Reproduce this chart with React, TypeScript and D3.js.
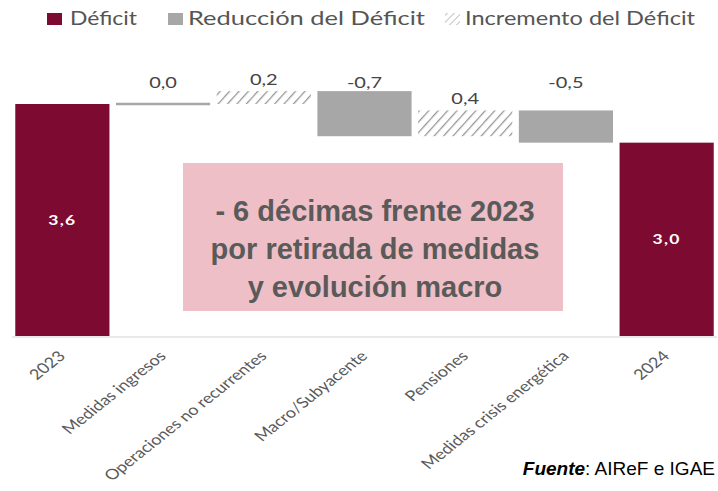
import React from 'react';
import * as d3 from 'd3';

// Waterfall data (déficit, % PIB)
const categories = [
  '2023',
  'Medidas ingresos',
  'Operaciones no recurrentes',
  'Macro/Subyacente',
  'Pensiones',
  'Medidas crisis energética',
  '2024',
];
const values = [3.6, 0.0, 0.2, -0.7, 0.4, -0.5, 3.0];
const isTotal = [true, false, false, false, false, false, true];

const legendLabels = ['Déficit', 'Reducción del Déficit', 'Incremento del Déficit'];
const noteLines = ['- 6 décimas frente 2023', 'por retirada de medidas', 'y evolución macro'];

const W = 718;
const H = 491;
const DEFICIT = '#7d0a30';
const GREY = '#a7a7a7';
const HUMANIST = 'Lato, "Open Sans", sans-serif';
const SX = 1.25; // the source picture is stretched horizontally

const fmt = (v: number) => d3.format('.1f')(v).replace('−', '-').replace('.', ',');

export default function App() {
  const x = d3
    .scaleBand<string>()
    .domain(categories)
    .range([12, 717])
    .paddingInner(0.065)
    .paddingOuter(0.0325);
  const y = d3.scaleLinear().domain([0, 3.6]).range([336, 104]);
  const bw = x.bandwidth();
  const labelRow = y(3.6) - 16;

  // running totals for the floating bars
  let running = 0;
  const bars = categories.map((c, i) => {
    const v = values[i];
    let lo: number, hi: number;
    if (isTotal[i]) {
      lo = 0;
      hi = v;
      running = v;
    } else {
      const start = running;
      running = start + v;
      lo = Math.min(start, running);
      hi = Math.max(start, running);
    }
    return { c, v, lo, hi, total: isTotal[i] };
  });

  const legend = [
    { label: legendLabels[0], fill: DEFICIT, sq: 47, tx: 70, len: 67 },
    { label: legendLabels[1], fill: GREY, sq: 168, tx: 188, len: 237 },
    { label: legendLabels[2], fill: 'url(#hatchS)', sq: 445, tx: 465, len: 230 },
  ];

  return (
    <svg
      width={W}
      height={H}
      style={{ position: 'absolute', left: 0, top: 0, background: '#fff' }}
    >
      <defs>
        <pattern id="hatch" width="7" height="7" patternUnits="userSpaceOnUse" patternTransform="rotate(42)">
          <line x1="0" y1="0" x2="0" y2="7" stroke="#979797" strokeWidth="2.6" />
        </pattern>
        <pattern id="hatchS" width="5" height="5" patternUnits="userSpaceOnUse" patternTransform="rotate(45)">
          <line x1="0" y1="0" x2="0" y2="5" stroke="#b0b0b0" strokeWidth="1.6" />
        </pattern>
      </defs>

      {/* legend */}
      <g fontFamily={HUMANIST} fontSize={18.5} fill="#555">
        {legend.map((l) => (
          <g key={l.label}>
            <rect x={l.sq} y={13} width={15} height={12} fill={l.fill} />
            <text x={l.tx} y={25} textLength={l.len} lengthAdjust="spacingAndGlyphs">
              {l.label}
            </text>
          </g>
        ))}
      </g>

      {/* baseline */}
      <line x1={12} x2={717} y1={y(0) + 1} y2={y(0) + 1} stroke="#e2e2e2" strokeWidth={1.5} />

      {bars.map((b) => {
        const x0 = x(b.c)!;
        const cx = x0 + bw / 2;
        const top = y(b.hi);
        const h = y(b.lo) - y(b.hi);
        if (b.total) {
          return (
            <g key={b.c}>
              <rect x={x0} y={top} width={bw} height={h} fill={DEFICIT} />
              <text
                transform={`translate(${cx},${(top + y(b.lo)) / 2 + 5}) scale(${SX},1)`}
                textAnchor="middle"
                fontFamily={HUMANIST}
                fontWeight="bold"
                fontSize={14}
                letterSpacing={1}
                fill="#fff"
              >
                {fmt(b.v)}
              </text>
            </g>
          );
        }
        const ly = b.v > 0 ? top - 6 : labelRow;
        return (
          <g key={b.c}>
            {b.v === 0 ? (
              <line x1={x0} x2={x0 + bw} y1={top} y2={top} stroke={GREY} strokeWidth={2.5} />
            ) : (
              <rect x={x0} y={top} width={bw} height={h} fill={b.v > 0 ? 'url(#hatch)' : GREY} />
            )}
            <text
              transform={`translate(${cx},${ly}) scale(${SX},1)`}
              textAnchor="middle"
              fontFamily={HUMANIST}
              fontSize={16}
              fill="#444"
            >
              {fmt(b.v)}
            </text>
          </g>
        );
      })}

      {/* rotated category labels */}
      <g fontFamily={HUMANIST} fontSize={14.5} fill="#5a5a5a">
        {bars.map((b) => (
          <text
            key={b.c}
            textAnchor="end"
            transform={`translate(${x(b.c)! + bw / 2 + 4},${y(0) + 21}) scale(${SX},1) rotate(-45)`}
          >
            {b.c}
          </text>
        ))}
      </g>

      {/* annotation box */}
      <rect x={183} y={163} width={380} height={148} fill="#eebfc6" />
      <g
        fontFamily='"Liberation Sans", Arial, sans-serif'
        fontWeight="bold"
        fontSize={29}
        fill="#5a5a5a"
        textAnchor="middle"
      >
        {noteLines.map((l, i) => (
          <text key={i} x={375} y={221 + i * 38}>
            {l}
          </text>
        ))}
      </g>

      {/* source */}
      <text
        x={715}
        y={475}
        textAnchor="end"
        fontFamily='"Liberation Sans", Arial, sans-serif'
        fontSize={19}
        fill="#000"
      >
        <tspan fontWeight="bold" fontStyle="italic">Fuente</tspan>: AIReF e IGAE
      </text>
    </svg>
  );
}
